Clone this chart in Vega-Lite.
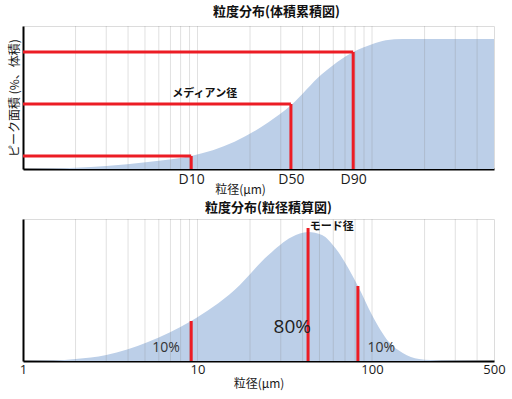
{
  "$schema": "https://vega.github.io/schema/vega-lite/v6.json",
  "padding": {"top": 5, "left": 7, "right": 12, "bottom": 4},
  "spacing": 5,
  "config": {
    "font": "Noto Sans CJK JP",
    "view": {"stroke": "#dcdcdc", "strokeWidth": 1},
    "axis": {
      "grid": false, "ticks": false, "domainColor": "#000", "domainWidth": 2,
      "labelFont": "Open Sans", "labelColor": "#1a1a1a", "labelFontSize": 13,
      "titleFont": "Noto Sans CJK JP", "titleFontWeight": "normal", "titleColor": "#1a1a1a", "titleFontSize": 12
    },
    "title": {"font": "Noto Sans CJK JP", "fontSize": 13, "fontWeight": "bold", "color": "#111", "offset": 4}
  },
  "datasets": {
    "grid": [{"v": 2}, {"v": 3}, {"v": 4}, {"v": 5}, {"v": 6}, {"v": 7}, {"v": 8}, {"v": 9}, {"v": 10}, {"v": 20}, {"v": 30}, {"v": 40}, {"v": 50}, {"v": 60}, {"v": 70}, {"v": 80}, {"v": 90}, {"v": 100}, {"v": 200}, {"v": 300}, {"v": 400}]
  },
  "vconcat": [
    {
      "title": {"text": "粒度分布(体積累積図)", "dx": 18, "offset": 7},
      "width": 471,
      "height": 143,
      "layer": [
        {
          "data": {"values": [
            {"size": 1, "cum": 0}, {"size": 1.5, "cum": 0.3}, {"size": 2, "cum": 1}, {"size": 3, "cum": 2.3},
            {"size": 5.2, "cum": 5.4}, {"size": 9.2, "cum": 10}, {"size": 16.3, "cum": 21}, {"size": 25.5, "cum": 36},
            {"size": 34.3, "cum": 49}, {"size": 51.7, "cum": 73}, {"size": 78, "cum": 90}, {"size": 100, "cum": 96},
            {"size": 120, "cum": 99}, {"size": 150, "cum": 100}, {"size": 200, "cum": 100}, {"size": 500, "cum": 100}
          ]},
          "mark": {"type": "area", "interpolate": "monotone", "color": "#bccfe8"},
          "encoding": {
            "x": {"field": "size", "type": "quantitative", "scale": {"type": "log", "domain": [1, 500], "nice": false},
              "axis": {"title": "粒径(μm)", "values": [9.2, 34.3, 78], "labelExpr": "datum.value < 20 ? 'D10' : datum.value < 50 ? 'D50' : 'D90'", "labelFontSize": 14, "labelPadding": 3, "labelFlush": false, "titleX": 217, "titleY": 20, "titleBaseline": "middle"}},
            "y": {"field": "cum", "type": "quantitative", "scale": {"domain": [0, 110], "nice": false},
              "axis": {"title": "ピーク面積 (%、体積)", "labels": false, "titlePadding": 2}}
          }
        },
        {
          "data": {"name": "grid"},
          "mark": {"type": "rule", "color": "#888", "opacity": 0.25, "strokeWidth": 1},
          "encoding": {"x": {"field": "v", "type": "quantitative"}}
        },
        {
          "data": {"values": [{"from": 1, "d": 9.2, "p": 10, "zero": 0}, {"from": 1, "d": 34.3, "p": 50, "zero": 0}, {"from": 1, "d": 78, "p": 90, "zero": 0}]},
          "mark": {"type": "rule", "color": "#ec1c24", "strokeWidth": 3},
          "encoding": {"x": {"field": "from", "type": "quantitative"}, "x2": {"field": "d"}, "y": {"field": "p", "type": "quantitative"}}
        },
        {
          "data": {"values": [{"from": 1, "d": 9.2, "p": 10, "zero": 0}, {"from": 1, "d": 34.3, "p": 50, "zero": 0}, {"from": 1, "d": 78, "p": 90, "zero": 0}]},
          "mark": {"type": "rule", "color": "#ec1c24", "strokeWidth": 3},
          "encoding": {"x": {"field": "d", "type": "quantitative"}, "y": {"field": "p", "type": "quantitative"}, "y2": {"field": "zero"}}
        },
        {
          "data": {"values": [{"x": 11, "y": 57.5, "t": "メディアン径"}]},
          "mark": {"type": "text", "fontSize": 11, "fontWeight": "bold", "color": "#111"},
          "encoding": {"x": {"field": "x", "type": "quantitative"}, "y": {"field": "y", "type": "quantitative"}, "text": {"field": "t"}}
        }
      ]
    },
    {
      "title": {"text": "粒度分布(粒径積算図)", "dx": 10},
      "width": 471,
      "height": 142,
      "layer": [
        {
          "data": {"values": [
            {"size": 1, "freq": 0}, {"size": 1.5, "freq": 0.5}, {"size": 2, "freq": 2}, {"size": 3, "freq": 6},
            {"size": 5.2, "freq": 19}, {"size": 9.2, "freq": 40}, {"size": 16.3, "freq": 71}, {"size": 25.5, "freq": 106},
            {"size": 34.7, "freq": 124}, {"size": 43, "freq": 129}, {"size": 51.7, "freq": 126}, {"size": 61.6, "freq": 113},
            {"size": 83, "freq": 75}, {"size": 100, "freq": 46}, {"size": 125, "freq": 19}, {"size": 150, "freq": 8},
            {"size": 186, "freq": 2}, {"size": 250, "freq": 0.5}, {"size": 500, "freq": 0}
          ]},
          "mark": {"type": "area", "interpolate": "monotone", "color": "#bccfe8"},
          "encoding": {
            "x": {"field": "size", "type": "quantitative", "scale": {"type": "log", "domain": [1, 500], "nice": false},
              "axis": {"title": "粒径(μm)", "values": [1, 10, 100, 500], "format": "d", "labelPadding": 2, "labelFlush": false, "titlePadding": 2}},
            "y": {"field": "freq", "type": "quantitative", "scale": {"domain": [0, 142], "nice": false},
              "axis": {"title": null, "labels": false}}
          }
        },
        {
          "data": {"name": "grid"},
          "mark": {"type": "rule", "color": "#888", "opacity": 0.25, "strokeWidth": 1},
          "encoding": {"x": {"field": "v", "type": "quantitative"}}
        },
        {
          "data": {"values": [{"d": 9.2, "h": 40, "zero": 0}, {"d": 43, "h": 133, "zero": 0}, {"d": 83, "h": 75, "zero": 0}]},
          "mark": {"type": "rule", "color": "#ec1c24", "strokeWidth": 3},
          "encoding": {"x": {"field": "d", "type": "quantitative"}, "y": {"field": "h", "type": "quantitative"}, "y2": {"field": "zero"}}
        },
        {
          "data": {"values": [{"x": 6.6, "y": 12.7, "t": "10%"}, {"x": 113, "y": 12.7, "t": "10%"}]},
          "mark": {"type": "text", "font": "Open Sans", "fontSize": 14, "color": "#333"},
          "encoding": {"x": {"field": "x", "type": "quantitative"}, "y": {"field": "y", "type": "quantitative"}, "text": {"field": "t"}}
        },
        {
          "data": {"values": [{"x": 34.9, "y": 34.3, "t": "80%"}]},
          "mark": {"type": "text", "font": "Open Sans", "fontSize": 19, "color": "#222"},
          "encoding": {"x": {"field": "x", "type": "quantitative"}, "y": {"field": "y", "type": "quantitative"}, "text": {"field": "t"}}
        },
        {
          "data": {"values": [{"x": 44, "y": 134, "t": "モード径"}]},
          "mark": {"type": "text", "fontSize": 11, "fontWeight": "bold", "color": "#111", "align": "left"},
          "encoding": {"x": {"field": "x", "type": "quantitative"}, "y": {"field": "y", "type": "quantitative"}, "text": {"field": "t"}}
        }
      ]
    }
  ]
}
